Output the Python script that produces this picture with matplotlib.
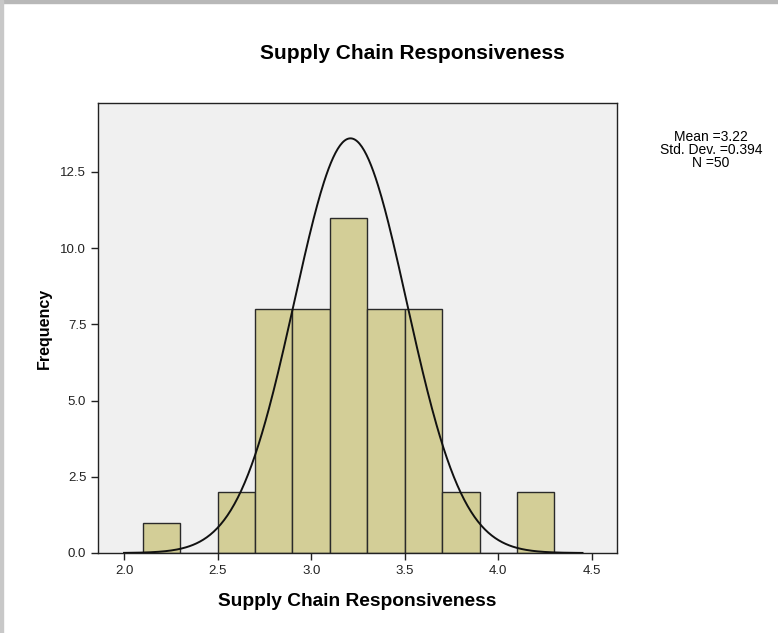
import numpy as np
import matplotlib.pyplot as plt
from matplotlib.patches import Rectangle

plt.rcParams['font.family'] = ['Liberation Sans', 'DejaVu Sans']

# Histogram data (bin edges, counts)
bin_edges = [2.1, 2.3, 2.5, 2.7, 2.9, 3.1, 3.3, 3.5, 3.7, 3.9, 4.1, 4.3]
counts = [1, 0, 2, 8, 8, 11, 8, 8, 2, 0, 2]
mean = 3.22
std = 0.394
n = 50
# normal curve as drawn in the picture (peak position, height, spread)
curve_center = 3.21
curve_peak = 13.6
curve_sigma = 0.30

xticks = [2.0, 2.5, 3.0, 3.5, 4.0, 4.5]
yticks = [0.0, 2.5, 5.0, 7.5, 10.0, 12.5]

fig = plt.figure(figsize=(7.78, 6.33), dpi=100)
ax = fig.add_axes([0.126, 0.1264, 0.667, 0.7109])
ax.set_facecolor('#F0F0F0')

widths = np.diff(bin_edges)
ax.bar(bin_edges[:-1], counts, width=widths, align='edge',
       color='#D3CE97', edgecolor='#2a2a2a', linewidth=1.0, zorder=2)

xs = np.linspace(2.0, 4.45, 400)
ys = curve_peak * np.exp(-0.5 * ((xs - curve_center) / curve_sigma) ** 2)
ax.plot(xs, ys, color='#111111', linewidth=1.4, zorder=3)

ax.set_xlim(1.861, 4.634)
ax.set_ylim(0, 14.76)
ax.set_xticks(xticks)
ax.set_xticklabels([f'{t:.1f}' for t in xticks])
ax.set_yticks(yticks)
ax.set_yticklabels([f'{t:.1f}' for t in yticks])
ax.tick_params(direction='out', length=5, width=1, labelsize=9.5, colors='#222222')
for s in ax.spines.values():
    s.set_color('#222222')
    s.set_linewidth(1.0)

fig.text(0.5296, 0.916, 'Supply Chain Responsiveness', fontsize=15, fontweight='bold',
         ha='center', va='center')
ax.set_xlabel('Supply Chain Responsiveness', fontsize=13.8, fontweight='bold', labelpad=12)
ax.set_ylabel('Frequency', fontsize=11.5, fontweight='bold', labelpad=6)

fig.text(0.914, 0.763, f'Mean ={mean}\nStd. Dev. ={std}\nN ={n}',
         ha='center', va='center', fontsize=10, linespacing=0.95)

# screenshot border (gray edges at top and left)
fig.patches.append(Rectangle((0, 1 - 3 / 633), 1, 3 / 633, transform=fig.transFigure,
                             color='#B8B8B8', zorder=0))
fig.patches.append(Rectangle((0, 0), 3 / 778, 1, transform=fig.transFigure,
                             color='#C8C8C8', zorder=0))

fig.savefig('out.png', dpi=100)
